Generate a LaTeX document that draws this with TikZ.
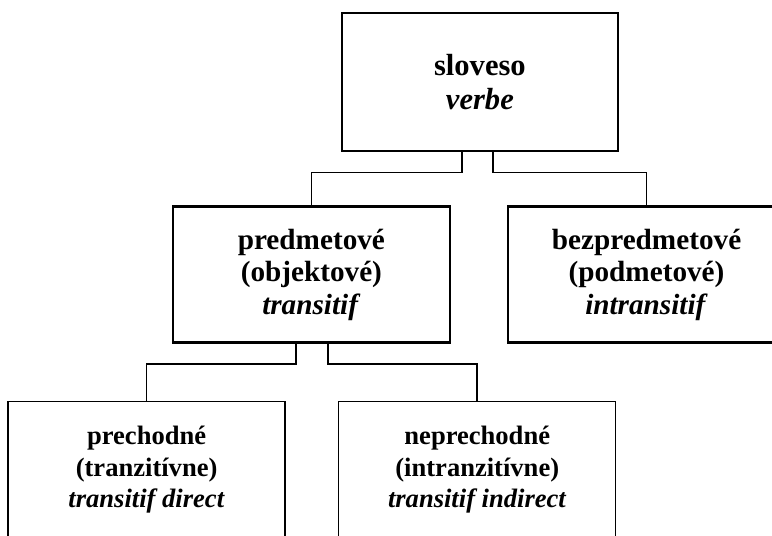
\documentclass[tikz,border=0pt]{standalone}
\usepackage{fontspec}
\setmainfont{Liberation Serif}
\usetikzlibrary{
  positioning, calc
}
\tikzset{
  topnode/.style={rectangle,draw=black,line width=2pt,inner sep=0pt,align=center,
    minimum width=7.30cm,minimum height=3.65cm,font=\fontsize{23}{26}\selectfont\bfseries},
  midnode/.style={rectangle,draw=black,line width=2pt,inner sep=0pt,align=center,
    minimum width=7.33cm,minimum height=3.60cm,font=\fontsize{22}{24.4}\selectfont\bfseries},
  lownode/.style={rectangle,draw=black,line width=1pt,inner sep=0pt,align=center,
    minimum width=7.33cm,minimum height=3.60cm,font=\fontsize{20}{23.6}\selectfont\bfseries},
  link/.style={line width=1.2pt,draw=black}
}

\begin{document}
\begin{tikzpicture}

  % Frame (boxes on the right and at the bottom run off the page)
  \useasboundingbox (0,0) rectangle (20.43,14.18);
  \clip (0,0) rectangle (20.43,14.18);

  % Verb
  \node[topnode] (verbe) at (12.70,12.01) {sloveso\\\textit{verbe}};

  % Second level
  \node[midnode] (trans) at (8.24,6.91) {predmetové\\(objektové)\\\textit{transitif}};
  \node[midnode] (intrans) at (17.11,6.91) {bezpredmetové\\(podmetové)\\\textit{intransitif}};

  % Third level
  \node[lownode] (direct) at (3.88,1.75) {prechodné\\(tranzitívne)\\\textit{transitif direct}};
  \node[lownode] (indirect) at (12.63,1.75) {neprechodné\\(intranzitívne)\\\textit{transitif indirect}};

  % Connectors
  \draw[link] ([xshift=-0.48cm]verbe.south) -- ++(0,-0.53) -| (trans.north);
  \draw[link] ([xshift=0.34cm]verbe.south) -- ++(0,-0.53) -| (intrans.north);
  \draw[link] ([xshift=-0.41cm]trans.south) -- ++(0,-0.53) -| (direct.north);
  \draw[link] ([xshift=0.44cm]trans.south) -- ++(0,-0.53) -| (indirect.north);

\end{tikzpicture}
\end{document}
